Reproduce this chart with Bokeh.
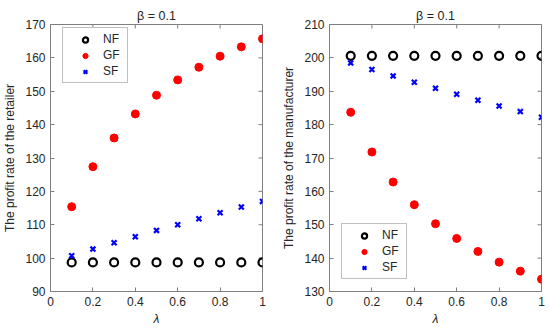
from bokeh.plotting import figure
from bokeh.layouts import row
from bokeh.models import Range1d, FixedTicker, NumeralTickFormatter
from bokeh.embed import file_html
from bokeh.resources import INLINE

lam = [0.1, 0.2, 0.3, 0.4, 0.5, 0.6, 0.7, 0.8, 0.9, 1.0]
x_ticks = [0, 0.2, 0.4, 0.6, 0.8, 1]

ret_nf = [98.7, 98.7, 98.7, 98.7, 98.7, 98.7, 98.7, 98.7, 98.7, 98.7]
ret_gf = [115.4, 127.4, 136.0, 143.2, 148.8, 153.4, 157.2, 160.5, 163.3, 165.7]
ret_sf = [100.7, 102.7, 104.6, 106.4, 108.3, 110.0, 111.8, 113.6, 115.3, 117.0]
ret_yticks = [90, 100, 110, 120, 130, 140, 150, 160, 170]

man_nf = [200.6, 200.6, 200.6, 200.6, 200.6, 200.6, 200.6, 200.6, 200.6, 200.6]
man_gf = [183.7, 171.8, 162.8, 156.0, 150.3, 145.9, 142.0, 138.8, 136.1, 133.7]
man_sf = [198.5, 196.5, 194.6, 192.7, 190.9, 189.1, 187.3, 185.6, 183.9, 182.2]
man_yticks = [130, 140, 150, 160, 170, 180, 190, 200, 210]

title_text = "β = 0.1"
FONT = "Liberation Sans"
AX = "#7f7f7f"
TXT = "#262626"
FW, FH = 212, 267
TICK = 4


def style_axis(ax):
    ax.axis_line_color = AX
    ax.major_tick_line_color = AX
    ax.minor_tick_line_color = None
    ax.major_tick_in = TICK
    ax.major_tick_out = 0
    ax.major_label_text_font = FONT
    ax.major_label_text_color = TXT
    ax.major_label_text_font_size = "12px"
    ax.axis_label_text_font = FONT
    ax.axis_label_text_color = TXT
    ax.axis_label_text_font_size = "12px"


def make(ylabel, yticks, nf, gf, sf, legend_loc, bl, br):
    y0, y1 = yticks[0], yticks[-1]
    p = figure(width=bl + FW + br, height=24 + FH + 39,
               output_backend="svg", toolbar_location=None,
               x_range=Range1d(0, 1), y_range=Range1d(y0, y1),
               min_border_left=bl, min_border_right=br, min_border_top=24,
               min_border_bottom=39, title=title_text)
    p.title.align = "center"
    p.title.text_font = FONT
    p.title.text_font_size = "12.5px"
    p.title.text_font_style = "normal"
    p.title.text_color = TXT
    p.title.standoff = 4
    p.grid.visible = False
    p.outline_line_color = AX
    p.xaxis.ticker = FixedTicker(ticks=x_ticks)
    p.xaxis.formatter = NumeralTickFormatter(format="0.[0]")
    p.yaxis.ticker = FixedTicker(ticks=yticks)
    p.xaxis.axis_label = "λ"
    p.yaxis.axis_label = ylabel
    style_axis(p.xaxis[0])
    style_axis(p.yaxis[0])
    p.xaxis.major_label_standoff = 5
    p.xaxis.axis_label_text_font_style = "italic"
    p.xaxis.axis_label_standoff = 3
    p.yaxis.major_label_standoff = 5
    p.yaxis.axis_label_text_font_style = "normal"
    p.yaxis.axis_label_standoff = 5

    # inward tick marks on the top and right edges of the box
    dy = (y1 - y0) * TICK / FH
    dx = 1.0 * TICK / FW
    p.segment(x0=x_ticks, x1=x_ticks, y0=[y1] * len(x_ticks),
              y1=[y1 - dy] * len(x_ticks), line_color=AX, line_width=1)
    p.segment(x0=[1] * len(yticks), x1=[1 - dx] * len(yticks),
              y0=yticks, y1=yticks, line_color=AX, line_width=1)

    p.scatter(lam, nf, marker="circle", size=8, fill_color=None,
              line_color="black", line_width=2.2, legend_label="NF")
    p.scatter(lam, gf, marker="circle", size=8, fill_color="#ff0000",
              line_color="#ff0000", line_width=1, legend_label="GF")
    p.scatter(lam, sf, marker="x", size=7, line_color="#0000ff",
              line_width=2.2, legend_label="SF")

    lg = p.legend[0]
    lg.location = legend_loc
    lg.border_line_color = AX
    lg.border_line_width = 1
    lg.background_fill_color = "white"
    lg.background_fill_alpha = 1
    lg.label_text_font = FONT
    lg.label_text_font_size = "12px"
    lg.label_text_color = TXT
    lg.padding = 4
    lg.margin = 0
    lg.spacing = 2
    lg.glyph_width = 36
    lg.glyph_height = 13
    lg.label_height = 13
    lg.label_width = 20
    lg.label_standoff = 0
    return p


p1 = make("The profit rate of the retailer", ret_yticks, ret_nf, ret_gf, ret_sf,
          (12, 208), 50, 13)
p2 = make("The profit rate of the manufacturer", man_yticks, man_nf, man_gf, man_sf,
          (12, 12), 54, 9)

layout = row(p1, p2, spacing=0)
open("out.html", "w").write(file_html(layout, INLINE))
